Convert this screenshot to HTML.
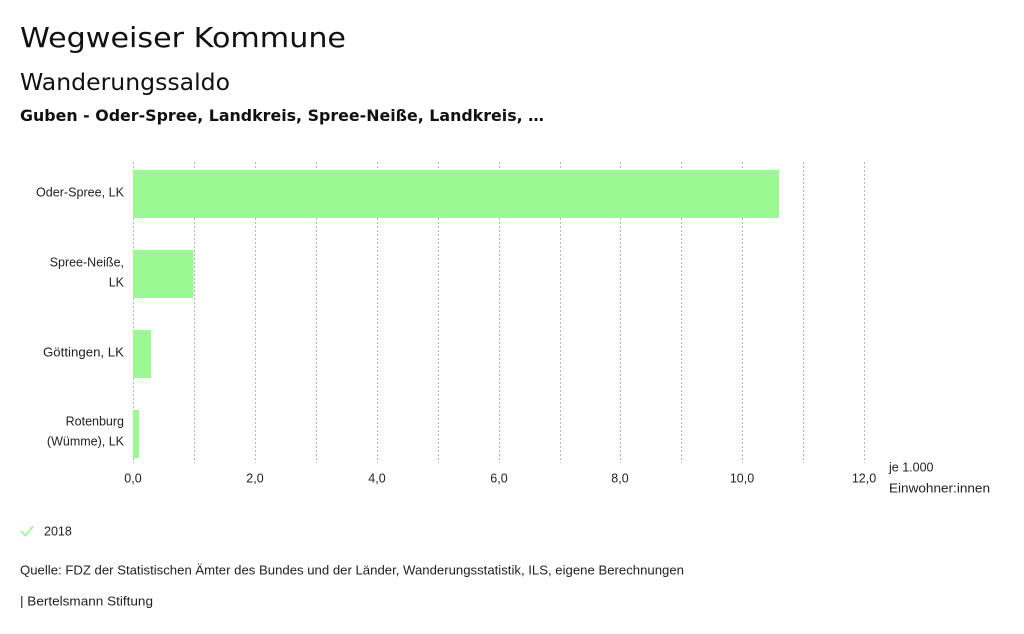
<!DOCTYPE html>
<html>
<head>
<meta charset="utf-8">
<style>
html,body{margin:0;padding:0;background:#fff;}
svg{display:block;}
.t{font-family:"DejaVu Sans","Liberation Sans",sans-serif;fill:#111;}
.l{font-family:"Liberation Sans",sans-serif;font-size:12.5px;fill:#222;}
</style>
</head>
<body>
<svg width="1024" height="634" viewBox="0 0 1024 634" xmlns="http://www.w3.org/2000/svg">
<rect width="1024" height="634" fill="#fff"/>
<text class="t" x="20" y="47" font-size="28" textLength="326" lengthAdjust="spacingAndGlyphs">Wegweiser Kommune</text>
<text class="t" x="20" y="90" font-size="23" textLength="210" lengthAdjust="spacingAndGlyphs">Wanderungssaldo</text>
<text class="t" x="20" y="121" font-size="16" font-weight="bold" textLength="524" lengthAdjust="spacingAndGlyphs">Guben - Oder-Spree, Landkreis, Spree-Neiße, Landkreis, …</text>

<g stroke="#b5b5b5" stroke-width="1" stroke-dasharray="2,2">
<line x1="133.5" y1="162" x2="133.5" y2="463"/>
<line x1="194.5" y1="162" x2="194.5" y2="463"/>
<line x1="255.5" y1="162" x2="255.5" y2="463"/>
<line x1="316.5" y1="162" x2="316.5" y2="463"/>
<line x1="377.5" y1="162" x2="377.5" y2="463"/>
<line x1="438.5" y1="162" x2="438.5" y2="463"/>
<line x1="499.5" y1="162" x2="499.5" y2="463"/>
<line x1="560.5" y1="162" x2="560.5" y2="463"/>
<line x1="620.5" y1="162" x2="620.5" y2="463"/>
<line x1="681.5" y1="162" x2="681.5" y2="463"/>
<line x1="742.5" y1="162" x2="742.5" y2="463"/>
<line x1="803.5" y1="162" x2="803.5" y2="463"/>
<line x1="864.5" y1="162" x2="864.5" y2="463"/>
</g>

<g fill="#9bf993">
<rect x="133" y="170" width="646" height="48"/>
<rect x="133" y="250" width="60.5" height="48"/>
<rect x="133" y="330" width="18" height="48"/>
<rect x="133" y="410" width="6" height="48"/>
</g>

<g class="l" text-anchor="end">
<text x="124" y="196.5" textLength="88" lengthAdjust="spacingAndGlyphs">Oder-Spree, LK</text>
<text x="124" y="266.5">Spree-Neiße,</text>
<text x="124" y="286.5">LK</text>
<text x="124" y="356.5" textLength="81" lengthAdjust="spacingAndGlyphs">Göttingen, LK</text>
<text x="124" y="425.5">Rotenburg</text>
<text x="124" y="445.5">(Wümme), LK</text>
</g>

<g class="l" text-anchor="middle">
<text x="133" y="482.5">0,0</text>
<text x="255" y="482.5">2,0</text>
<text x="377" y="482.5">4,0</text>
<text x="499" y="482.5">6,0</text>
<text x="620" y="482.5">8,0</text>
<text x="742" y="482.5">10,0</text>
<text x="864" y="482.5">12,0</text>
</g>
<text class="l" x="889" y="471.5">je 1.000</text>
<text class="l" x="889" y="492.5" textLength="101" lengthAdjust="spacingAndGlyphs">Einwohner:innen</text>

<path d="M21 531 L25.5 535.5 L33 526.5" fill="none" stroke="#9bf993" stroke-width="1.8"/>
<text class="l" x="44" y="535.5">2018</text>

<text class="l" x="20" y="574.5" textLength="664" lengthAdjust="spacingAndGlyphs">Quelle: FDZ der Statistischen Ämter des Bundes und der Länder, Wanderungsstatistik, ILS, eigene Berechnungen</text>
<text class="l" x="20" y="605.5" textLength="133" lengthAdjust="spacingAndGlyphs">| Bertelsmann Stiftung</text>
</svg>
</body>
</html>
